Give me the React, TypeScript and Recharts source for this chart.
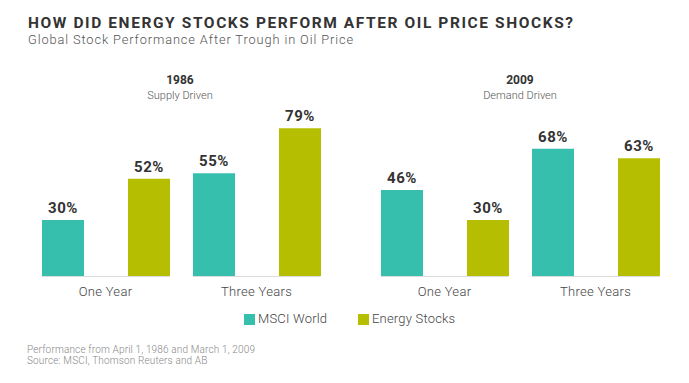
import React from "react";
import { BarChart, Bar, XAxis, YAxis, LabelList } from "recharts";

const categories = ["One Year", "Three Years"];
const msci1986 = [30, 55];
const energy1986 = [52, 79];
const msci2009 = [46, 68];
const energy2009 = [30, 63];
const panelTitles = ["1986", "2009"];
const panelSubtitles = ["Supply Driven", "Demand Driven"];
const seriesNames = ["MSCI World", "Energy Stocks"];

const TEAL = "#37bfae";
const OLIVE = "#b5be00";
const FONT = "Roboto, 'Noto Sans', sans-serif";

const data1986 = categories.map((c, i) => ({ cat: c, msci: msci1986[i], energy: energy1986[i] }));
const data2009 = categories.map((c, i) => ({ cat: c, msci: msci2009[i], energy: energy2009[i] }));

const BAR = 42;
const GAP = 44;
const HALF = (BAR * 2 + GAP) / 2;

const Tick = (props: any) => {
  const { x, y, payload } = props;
  return (
    <g>
      <line x1={x - HALF} x2={x + HALF} y1={y + 0.5} y2={y + 0.5} stroke="#dcdcdc" strokeWidth={1} />
      <text x={x} y={y + 20} textAnchor="middle" fontFamily={FONT} fontSize={13} fontWeight={300} fill="#444" letterSpacing={0.3}>
        {payload.value}
      </text>
    </g>
  );
};

const labelStyle = { fontFamily: FONT, fontSize: 15, fontWeight: 700, fill: "#333", letterSpacing: 0.5 };

const Panel = ({ data, left }: { data: any[]; left: number }) => (
  <div style={{ position: "absolute", left, top: 0 }}>
    <BarChart
      width={302}
      height={310}
      data={data}
      margin={{ top: 89, right: 0, bottom: 0, left: 0 }}
      barSize={BAR}
      barGap={GAP}
    >
      <XAxis
        dataKey="cat"
        axisLine={false}
        tickLine={false}
        tickSize={0}
        tickMargin={0}
        height={34}
        tick={<Tick />}
        interval={0}
      />
      <YAxis hide domain={[0, 100]} />
      <Bar dataKey="msci" fill={TEAL} isAnimationActive={false}>
        <LabelList dataKey="msci" position="top" offset={7} formatter={(v: any) => `${v}%`} style={labelStyle} />
      </Bar>
      <Bar dataKey="energy" fill={OLIVE} isAnimationActive={false}>
        <LabelList dataKey="energy" position="top" offset={7} formatter={(v: any) => `${v}%`} style={labelStyle} />
      </Bar>
    </BarChart>
  </div>
);

const PanelHeader = ({ cx, title, sub }: { cx: number; title: string; sub: string }) => (
  <div style={{ position: "absolute", left: cx - 100, width: 200, top: 72, textAlign: "center", fontFamily: FONT }}>
    <div style={{ fontSize: 12, fontWeight: 700, color: "#333", lineHeight: "16px" }}>{title}</div>
    <div style={{ fontSize: 11, fontWeight: 300, color: "#555", lineHeight: "15px" }}>{sub}</div>
  </div>
);

export default function App() {
  return (
    <div style={{ position: "absolute", left: 0, top: 0, width: 689, height: 383, background: "#fff", overflow: "hidden", fontFamily: FONT }}>
      <div style={{ position: "absolute", left: 28, top: 16, fontSize: 15.5, fontWeight: 700, color: "#333", whiteSpace: "nowrap", lineHeight: "14px", letterSpacing: 1.59 }}>
        HOW DID ENERGY STOCKS PERFORM AFTER OIL PRICE SHOCKS?
      </div>
      <div style={{ position: "absolute", left: 28, top: 33, fontSize: 12.8, fontWeight: 300, color: "#555", whiteSpace: "nowrap", lineHeight: "13px", letterSpacing: 0.89 }}>
        Global Stock Performance After Trough in Oil Price
      </div>
      <PanelHeader cx={180} title={panelTitles[0]} sub={panelSubtitles[0]} />
      <PanelHeader cx={520} title={panelTitles[1]} sub={panelSubtitles[1]} />
      <Panel data={data1986} left={29.5} />
      <Panel data={data2009} left={369} />
      <div style={{ position: "absolute", left: 244, top: 314, width: 11, height: 11, background: TEAL }} />
      <div style={{ position: "absolute", left: 258, top: 311, fontSize: 13, fontWeight: 300, color: "#444", lineHeight: "16px", whiteSpace: "nowrap", letterSpacing: 0.2 }}>
        {seriesNames[0]}
      </div>
      <div style={{ position: "absolute", left: 358, top: 314, width: 11, height: 11, background: OLIVE }} />
      <div style={{ position: "absolute", left: 372, top: 311, fontSize: 13, fontWeight: 300, color: "#444", lineHeight: "16px", whiteSpace: "nowrap", letterSpacing: 0.2 }}>
        {seriesNames[1]}
      </div>
      <div style={{ position: "absolute", left: 27, top: 344, fontSize: 10, fontWeight: 300, color: "#888", lineHeight: "11px", whiteSpace: "nowrap", letterSpacing: 0.15 }}>
        <div>Performance from April 1, 1986 and March 1, 2009</div>
        <div>Source: MSCI, Thomson Reuters and AB</div>
      </div>
    </div>
  );
}
